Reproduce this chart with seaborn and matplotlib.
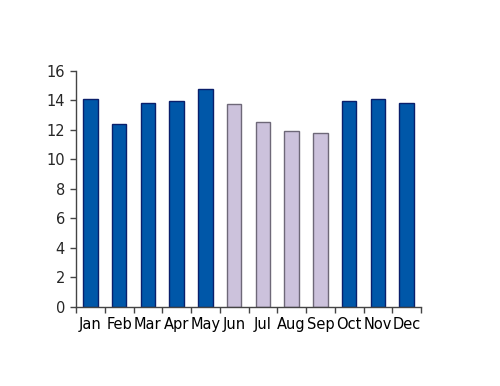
import matplotlib
matplotlib.use("Agg")
import matplotlib.pyplot as plt
import seaborn as sns
import pandas as pd
import numpy as np

months = ["Jan", "Feb", "Mar", "Apr", "May", "Jun", "Jul", "Aug", "Sep", "Oct", "Nov", "Dec"]
values = [14.1, 12.4, 13.85, 13.95, 14.75, 13.75, 12.55, 11.95, 11.8, 13.95, 14.1, 13.85]
season = ["cool", "cool", "cool", "cool", "cool", "warm", "warm", "warm", "warm", "cool", "cool", "cool"]
yticks = [0, 2, 4, 6, 8, 10, 12, 14, 16]

sns.set_style("white")
plt.rcParams['font.family'] = ['DejaVu Sans']

df = pd.DataFrame({"month": months, "value": values, "season": season})
palette = {"cool": "#0057A8", "warm": "#CCC2DC"}
edges = {"cool": "#0A1F6B", "warm": "#6E6878"}

fig = plt.figure(figsize=(5.0, 3.86), dpi=100)
ax = fig.add_axes([0.152, 0.2047, 0.69, 0.6114])
sns.barplot(data=df, x="month", y="value", hue="season", palette=palette,
            dodge=False, width=0.5, legend=False, ax=ax, saturation=1)
levels = list(dict.fromkeys(season))
for container, lev in zip(ax.containers, levels):
    for patch in container:
        patch.set_edgecolor(edges[lev])
        patch.set_linewidth(1.0)

ax.set_xlim(-0.5, 11.5)
ax.set_ylim(0, 16)
ax.set_yticks(yticks)
ax.set_xlabel("")
ax.set_ylabel("")
for s in ["top", "right"]:
    ax.spines[s].set_visible(False)
for s in ["left", "bottom"]:
    ax.spines[s].set_color("#444444")
    ax.spines[s].set_linewidth(1.0)
ax.set_xticks(np.arange(-0.5, 12, 1), minor=True)
ax.tick_params(axis="x", which="major", length=0, pad=7, labelsize=10.5, colors="black")
ax.tick_params(axis="x", which="minor", length=4, direction="out", color="#444444", width=1)
ax.tick_params(axis="y", length=4, direction="out", color="#444444", width=1, labelsize=10.5, pad=4)
ax.yaxis.set_ticks_position("left")
ax.xaxis.set_ticks_position("bottom")

fig.savefig("out.png", dpi=100)
